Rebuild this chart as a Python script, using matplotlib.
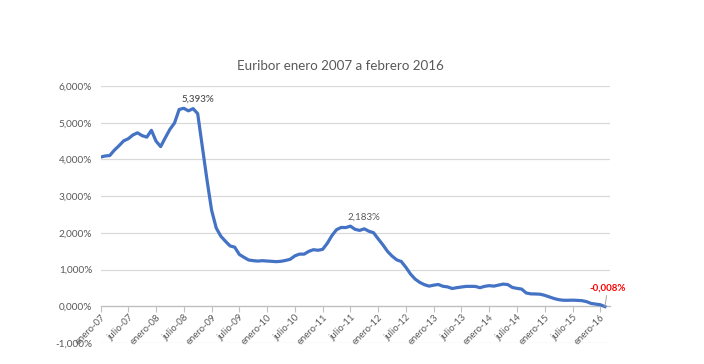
import matplotlib
matplotlib.use("Agg")
import matplotlib.pyplot as plt
from matplotlib.ticker import FuncFormatter, MultipleLocator

plt.rcParams['font.family'] = ['Lato', 'DejaVu Sans']

# ── data: 12-month Euribor, monthly, Jan 2007 .. Feb 2016 (%) ─────────────
euribor = [
    4.064, 4.094, 4.106, 4.253, 4.373, 4.505, 4.564, 4.666, 4.725, 4.647, 4.607, 4.793,  # 2007
    4.498, 4.349, 4.590, 4.820, 4.994, 5.361, 5.393, 5.323, 5.384, 5.248, 4.350, 3.452,  # 2008
    2.622, 2.135, 1.909, 1.771, 1.644, 1.610, 1.412, 1.334, 1.261, 1.243, 1.231, 1.242,  # 2009
    1.232, 1.225, 1.215, 1.225, 1.249, 1.281, 1.373, 1.421, 1.420, 1.495, 1.541, 1.526,  # 2010
    1.550, 1.714, 1.924, 2.086, 2.147, 2.144, 2.183, 2.097, 2.067, 2.110, 2.044, 2.004,  # 2011
    1.837, 1.678, 1.499, 1.368, 1.266, 1.219, 1.061, 0.877, 0.740, 0.650, 0.588, 0.549,  # 2012
    0.575, 0.594, 0.545, 0.528, 0.484, 0.507, 0.525, 0.542, 0.543, 0.541, 0.506, 0.543,  # 2013
    0.562, 0.549, 0.577, 0.604, 0.592, 0.513, 0.488, 0.469, 0.362, 0.338, 0.335, 0.329,  # 2014
    0.298, 0.255, 0.212, 0.180, 0.165, 0.163, 0.167, 0.161, 0.154, 0.128, 0.079, 0.059,  # 2015
    0.042, -0.008,                                                                          # 2016
]
months = list(range(len(euribor)))

tick_labels = [f"{m}-{y:02d}" for y in range(7, 17) for m in ("enero", "julio")][:-1]
tick_pos = [i * 6 for i in range(len(tick_labels))]

labelled = {18: ("5,393%", "#505050", "semibold"),
            54: ("2,183%", "#595959", "normal")}
last_idx = len(euribor) - 1

grey_txt = "#595959"
grid_col = "#D9D9D9"
blue = "#4472C4"

pct_fmt = FuncFormatter(lambda v, _: f"{v:.3f}%".replace(".", ","))

fig = plt.figure(figsize=(7.04, 3.64), dpi=100)
ax = fig.add_axes([100.5 / 704, 1 - 343 / 364, (610 - 100.5) / 704, (343 - 86) / 364])

ax.plot(months, euribor, color=blue, lw=2.3, solid_joinstyle="round", zorder=3)

ax.set_ylim(-1, 6)
ax.set_xlim(0, 110.1)
ax.yaxis.set_major_locator(MultipleLocator(1))
ax.yaxis.set_major_formatter(pct_fmt)
ax.grid(axis="y", color=grid_col, lw=0.9)
ax.set_axisbelow(True)

for s in ("top", "right", "left"):
    ax.spines[s].set_visible(False)
ax.spines["bottom"].set_position(("data", 0))
ax.spines["bottom"].set_color("#BFBFBF")
ax.spines["bottom"].set_linewidth(0.9)

ax.set_xticks(tick_pos)
ax.set_xticklabels(tick_labels, rotation=45, ha="right", rotation_mode="anchor")
ax.tick_params(axis="x", colors="#BFBFBF", labelcolor=grey_txt, labelsize=6.8,
               length=4, width=0.8, pad=1)
ax.tick_params(axis="y", length=0, labelcolor=grey_txt, labelsize=7.2, pad=6)

for idx, (txt, col, w) in labelled.items():
    ax.annotate(txt, (months[idx], euribor[idx]), xytext=(10, 3.5),
                textcoords="offset points", ha="center", va="bottom",
                fontsize=7, color=col, fontweight=w)

ax.annotate("-0,008%", (months[last_idx], euribor[last_idx]), xytext=(2, 10),
            textcoords="offset points", ha="center", va="bottom",
            fontsize=7, color="#FF0000", fontweight="bold",
            arrowprops=dict(arrowstyle="-", color="#A6A6A6", lw=0.7,
                            shrinkA=0, shrinkB=0))

fig.text(340 / 704, 1 - 66 / 364, "Euribor enero 2007 a febrero 2016",
         ha="center", va="center", fontsize=9.6, color=grey_txt)

fig.savefig("out.png", dpi=100)
